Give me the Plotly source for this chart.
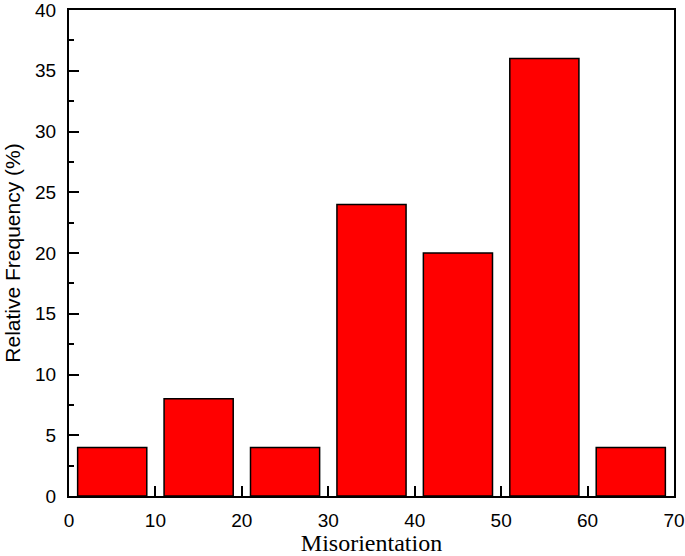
import plotly.graph_objects as go

bin_centers = [5, 15, 25, 35, 45, 55, 65]
frequencies = [4, 8, 4, 24, 20, 36, 4]

fig = go.Figure(go.Bar(
    x=bin_centers, y=frequencies, width=8,
    marker=dict(color="#ff0000", line=dict(color="black", width=1.5)),
))

axis_common = dict(
    showline=True, linecolor="black", linewidth=2, mirror=True,
    ticks="inside", ticklen=10, tickwidth=2, tickcolor="black",
    showgrid=False, zeroline=False, layer="below traces", automargin=False,
    ticklabeloverflow="allow",
    tickfont=dict(family="Arial, Liberation Sans", size=19, color="black"),
)

fig.update_xaxes(range=[0, 70], tick0=0, dtick=10,
                 minor=dict(ticks="inside", ticklen=5, tickwidth=2, tickcolor="black", dtick=5),
                 ticklabelstandoff=6,
                 title=dict(text="Misorientation", font=dict(family="Times New Roman, Liberation Serif", size=24, color="black"), standoff=4),
                 **axis_common)
fig.update_yaxes(range=[0, 40], tick0=0, dtick=5,
                 minor=dict(ticks="inside", ticklen=5, tickwidth=2, tickcolor="black", dtick=2.5),
                 ticklabelstandoff=7,
                 title=dict(text="Relative Frequency (%)", font=dict(family="Arial, Liberation Sans", size=21, color="black"), standoff=9),
                 **axis_common)

fig.update_layout(
    width=685, height=556,
    margin=dict(l=69, r=11, t=10, b=60),
    plot_bgcolor="white", paper_bgcolor="white",
    showlegend=False,
)

fig.write_html("out.html", config={"displayModeBar": False, "staticPlot": True},
               post_script="document.body.style.margin='0';document.body.style.overflow='hidden';")
